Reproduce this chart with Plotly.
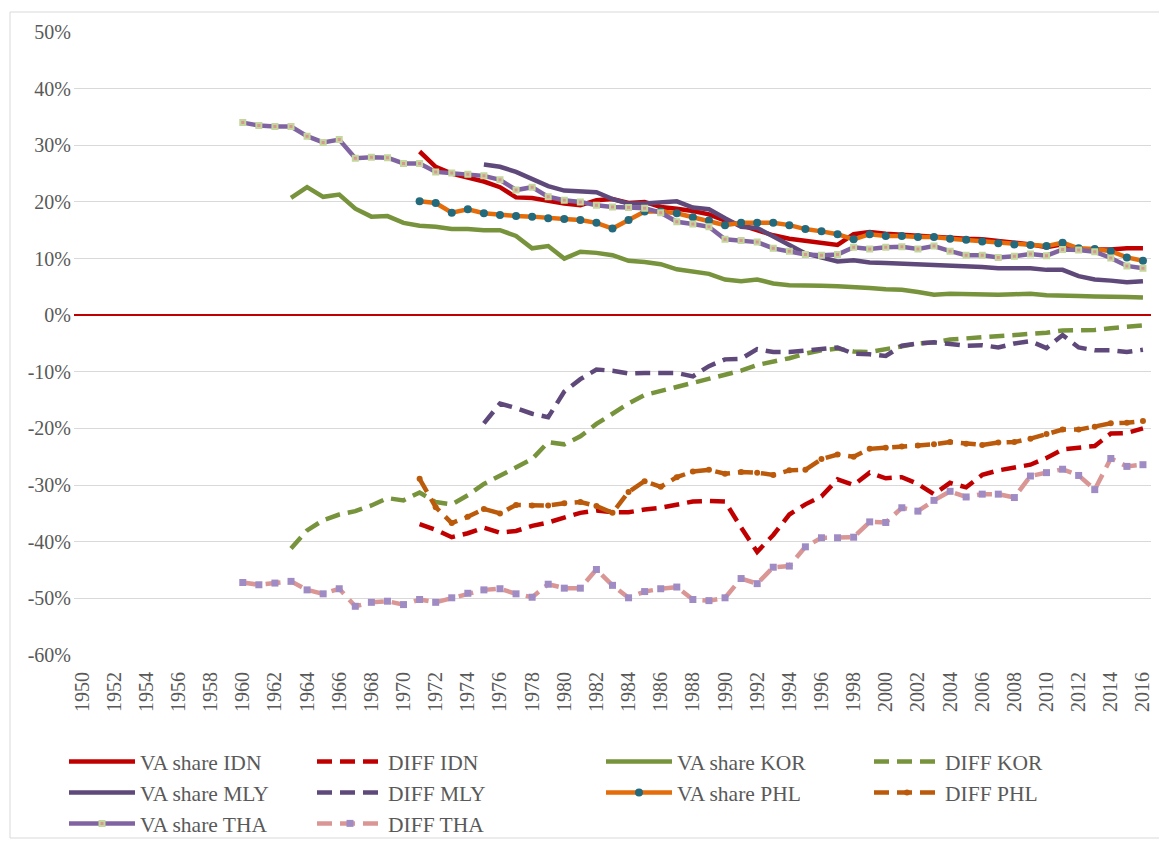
import plotly.graph_objects as go

# ---------------- data ----------------
va_idn = [28.9, 26.2, 25.0, 24.3, 23.6, 22.6, 20.8, 20.7, 20.2,
          19.7, 19.4, 20.3, 20.5, 19.8, 20.0, 19.1, 18.8, 18.4, 17.8,
          16.7, 15.9, 15.0, 14.1, 13.5, 13.1, 12.7, 12.4, 14.3, 14.7,
          14.4, 14.2, 14.0, 13.8, 13.6, 13.5, 13.4, 13.0, 12.8, 12.5,
          12.0, 12.5, 11.7, 11.6, 11.6, 11.8, 11.8]
diff_idn = [-36.9, -37.9, -39.2, -38.5, -37.5, -38.4, -38.1, -37.2, -36.6,
            -35.7, -34.9, -34.5, -34.8, -34.8, -34.3, -34.0, -33.5, -32.9, -32.8,
            -32.9, -37.5, -41.8, -38.8, -35.2, -33.4, -32.0, -29.0, -30.0, -27.8,
            -28.8, -28.6, -29.8, -31.6, -29.6, -30.4, -28.2, -27.4, -26.9, -26.4,
            -25.2, -23.7, -23.4, -23.1, -20.9, -20.8, -20.0]
va_kor = [20.7, 22.6, 20.9, 21.3, 18.8, 17.4, 17.5,
          16.3, 15.8, 15.6, 15.2, 15.2, 15.0, 15.0, 14.0, 11.8, 12.2,
          10.0, 11.2, 11.0, 10.6, 9.6, 9.4, 9.0, 8.1, 7.8, 7.3,
          6.3, 6.0, 6.3, 5.6, 5.3, 5.3, 5.2, 5.1, 5.0, 4.8,
          4.6, 4.5, 4.1, 3.6, 3.8, 3.7, 3.7, 3.6, 3.7, 3.8,
          3.5, 3.5, 3.4, 3.3, 3.3, 3.2, 3.1]
diff_kor = [-41.2, -38.0, -36.2, -35.2, -34.6, -33.6, -32.3,
            -32.7, -31.3, -33.0, -33.4, -31.8, -29.8, -28.4, -26.8, -25.4, -22.4,
            -22.8, -21.4, -19.2, -17.4, -15.6, -14.1, -13.4, -12.8, -12.0, -11.3,
            -10.6, -9.8, -8.8, -8.3, -7.6, -6.8, -6.2, -5.9, -6.4, -6.5,
            -6.0, -5.4, -5.0, -4.8, -4.3, -4.1, -3.9, -3.7, -3.5, -3.3,
            -3.1, -2.7, -2.7, -2.6, -2.3, -2.0, -1.8]
va_mly = [26.6, 26.2, 25.3, 24.0, 22.8,
          22.0, 21.8, 21.7, 20.5, 19.7, 19.7, 20.0, 20.1, 19.0, 18.7,
          17.1, 15.6, 15.4, 13.8, 12.4, 10.9, 10.1, 9.5, 9.7, 9.3,
          9.2, 9.1, 9.0, 8.9, 8.8, 8.6, 8.5, 8.3, 8.3, 8.3,
          8.0, 8.0, 6.9, 6.3, 6.1, 5.8, 6.0]
diff_mly = [-19.1, -15.6, -16.4, -17.4, -18.0,
            -13.5, -11.3, -9.6, -9.8, -10.3, -10.2, -10.2, -10.2, -10.8, -9.0,
            -7.8, -7.7, -6.0, -6.5, -6.5, -6.3, -5.9, -5.7, -6.8, -6.9,
            -7.2, -5.4, -5.0, -4.8, -5.1, -5.4, -5.3, -5.7, -5.0, -4.6,
            -5.8, -3.5, -5.7, -6.2, -6.2, -6.5, -6.1]
va_phl = [20.1, 19.8, 18.1, 18.7, 18.0, 17.7, 17.5, 17.4, 17.1,
          17.0, 16.8, 16.3, 15.3, 16.8, 18.3, 18.3, 18.0, 17.3, 16.7,
          15.9, 16.3, 16.3, 16.3, 15.9, 15.2, 14.8, 14.3, 13.4, 14.3,
          14.0, 14.0, 13.8, 13.8, 13.5, 13.3, 13.0, 12.7, 12.5, 12.4,
          12.2, 12.8, 11.8, 11.7, 11.3, 10.2, 9.6]
diff_phl = [-28.9, -33.9, -36.7, -35.6, -34.2, -35.0, -33.5, -33.6, -33.6,
            -33.2, -33.0, -33.7, -34.9, -31.2, -29.3, -30.3, -28.6, -27.6, -27.3,
            -28.0, -27.7, -27.8, -28.2, -27.4, -27.3, -25.4, -24.6, -25.0, -23.6,
            -23.4, -23.2, -23.0, -22.8, -22.4, -22.7, -22.9, -22.5, -22.4, -21.8,
            -21.0, -20.2, -20.2, -19.7, -19.1, -19.0, -18.7]
va_tha = [34.0, 33.5, 33.3, 33.3, 31.6, 30.5, 31.0, 27.7, 27.9, 27.8,
          26.8, 26.8, 25.3, 25.1, 24.9, 24.6, 23.9, 22.1, 22.6, 20.9,
          20.3, 20.0, 19.4, 19.1, 19.0, 18.9, 18.1, 16.5, 16.1, 15.6,
          13.4, 13.2, 12.9, 11.8, 11.3, 10.7, 10.6, 10.7, 12.0, 11.7,
          12.0, 12.1, 11.7, 12.2, 11.3, 10.6, 10.6, 10.2, 10.4, 10.8,
          10.5, 11.6, 11.5, 11.2, 10.1, 8.7, 8.3]
diff_tha = [-47.2, -47.6, -47.3, -47.0, -48.5, -49.2, -48.3, -51.4, -50.7, -50.5,
            -51.1, -50.2, -50.7, -49.9, -49.1, -48.5, -48.3, -49.2, -49.8, -47.5,
            -48.2, -48.2, -44.9, -47.7, -49.9, -48.8, -48.3, -48.0, -50.2, -50.4,
            -49.9, -46.5, -47.4, -44.5, -44.3, -40.9, -39.3, -39.3, -39.2, -36.5,
            -36.6, -34.0, -34.6, -32.7, -31.1, -32.1, -31.6, -31.6, -32.2, -28.4,
            -27.8, -27.2, -28.3, -30.8, -25.3, -26.7, -26.4]

start_idn, start_kor, start_mly, start_phl, start_tha = 1971, 1963, 1975, 1971, 1960
end_year = 2016

tick_years = list(range(1950, 2017, 2))
y_tick_vals = [50, 40, 30, 20, 10, 0, -10, -20, -30, -40, -50, -60]
y_tick_text = ["50%", "40%", "30%", "20%", "10%", "0%", "-10%", "-20%",
               "-30%", "-40%", "-50%", "-60%"]


def yrs(start, vals):
    return list(range(start, start + len(vals)))


# ---------------- styles ----------------
FONT = "Liberation Serif"
TXT = "#595959"
LW = 4.5
DASH = "15px,8px"

fig = go.Figure()


def add(name, start, vals, color, legend, dash=None, marker=None, group=None):
    mode = "lines+markers" if marker else "lines"
    fig.add_trace(go.Scatter(
        x=yrs(start, vals), y=vals, name=name, mode=mode,
        line=dict(color=color, width=LW, dash=dash or "solid"),
        marker=marker, legend=legend, legendgroup=group or name,
        hoverinfo="x+y+name",
    ))


add("VA share IDN", start_idn, va_idn, "#C00000", "legend")
add("DIFF IDN", start_idn, diff_idn, "#C00000", "legend2", dash=DASH)
add("VA share KOR", start_kor, va_kor, "#77933C", "legend3")
add("DIFF KOR", start_kor, diff_kor, "#77933C", "legend4", dash=DASH)
add("VA share MLY", start_mly, va_mly, "#5F497A", "legend")
add("DIFF MLY", start_mly, diff_mly, "#5F497A", "legend2", dash=DASH)
add("VA share PHL", start_phl, va_phl, "#E46C0A", "legend3",
    marker=dict(symbol="circle", size=8, color="#236A7C"))
add("DIFF PHL", start_phl, diff_phl, "#BB5A0A", "legend4", dash=DASH,
    marker=dict(symbol="circle", size=6, color="#BB5A0A"))
add("VA share THA", start_tha, va_tha, "#8064A2", "legend",
    marker=dict(symbol="square", size=5, color="#D99694",
                line=dict(color="#C3D69B", width=2)))
add("DIFF THA", start_tha, diff_tha, "#D99694", "legend2", dash=DASH,
    marker=dict(symbol="square", size=7, color="#A08CC4"))

# page has an 8px body margin: figure coords = page coords - 8
W, H = 1159, 834
L, R, T, B = 66, 16, 24, 187
pw, ph = W - L - R, H - T - B

leg_common = dict(
    font=dict(family=FONT, size=21.5, color=TXT),
    bgcolor="rgba(0,0,0,0)", orientation="v",
    xref="container", yref="container", xanchor="left", yanchor="top",
    itemwidth=66, tracegroupgap=0, traceorder="normal",
)
ly = 1 - 733 / H

fig.update_layout(
    width=W, height=H,
    margin=dict(l=L, r=R, t=T, b=B, autoexpand=False),
    paper_bgcolor="white", plot_bgcolor="white",
    font=dict(family=FONT, size=20, color=TXT),
    showlegend=True,
    legend=dict(x=56 / W, y=ly, **leg_common),
    legend2=dict(x=304 / W, y=ly, **leg_common),
    legend3=dict(x=593 / W, y=ly, **leg_common),
    legend4=dict(x=861 / W, y=ly, **leg_common),
    xaxis=dict(
        range=[1949.5, end_year + 0.5], tickvals=tick_years,
        ticktext=[str(v) for v in tick_years], tickangle=-90,
        showgrid=False, zeroline=False, showline=False, ticks="",
        ticklabelstandoff=12, automargin=False,
        tickfont=dict(family=FONT, size=20, color=TXT),
    ),
    yaxis=dict(
        range=[-60, 50], tickvals=y_tick_vals, ticktext=y_tick_text,
        showgrid=True, gridcolor="#D9D9D9", gridwidth=1,
        zeroline=True, zerolinecolor="#C00000", zerolinewidth=1.5,
        showline=False, ticks="", ticklabelstandoff=2, automargin=False,
        tickfont=dict(family=FONT, size=20, color=TXT),
    ),
    shapes=[dict(
        type="rect", xref="paper", yref="paper", layer="below",
        x0=(2 - L) / pw, x1=(1153 - L) / pw,
        y0=(T + ph - 830) / ph, y1=(T + ph - 4) / ph,
        line=dict(color="#D9D9D9", width=1),
    )],
)

fig.write_html("out.html")
